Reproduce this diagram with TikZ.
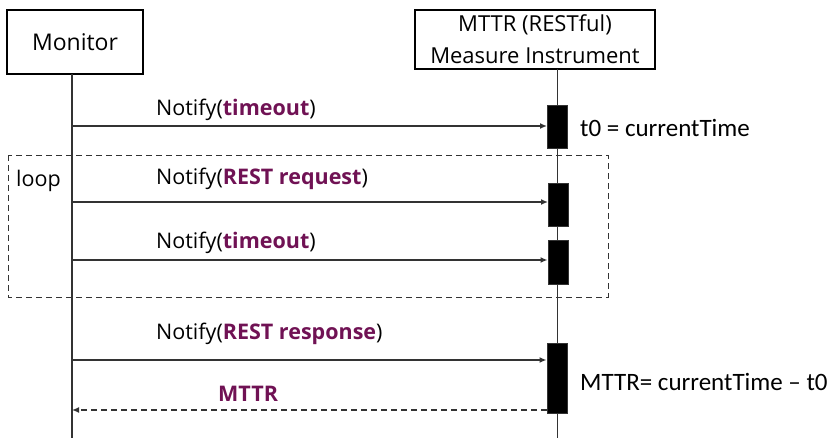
\documentclass[tikz,border=0pt]{standalone}
\usepackage{fontspec}
\setmainfont{Open Sans}
\newfontfamily\calfont[Ligatures=TeX]{Carlito}
\usetikzlibrary{positioning,arrows.meta}
\definecolor{msgpurple}{RGB}{112,18,84}
\newcommand{\hl}[1]{\textcolor{msgpurple}{\textbf{#1}}}

\begin{document}
\begin{tikzpicture}[x=1pt, y=-1pt,
	actor/.style={draw, line width=1.2pt, align=center, font=\fontsize{22}{32}\selectfont, inner sep=0pt},
	lifeline/.style={line width=1.3pt, black!80},
	actbar/.style={draw=black!80, fill=black, line width=1pt, minimum width=20pt, inner sep=0pt},
	msg/.style={line width=1.6pt, black!80, -{Latex[length=7pt,width=6pt]}},
	reply/.style={msg, dashed, dash pattern=on 6pt off 4pt},
	msglabel/.style={font=\fontsize{21.5}{24}\selectfont, anchor=west, inner sep=0pt},
	note/.style={font=\calfont\fontsize{25}{28}\selectfont, anchor=west, inner sep=0pt}]
\useasboundingbox (0,0) rectangle (836,440);

% actors
\node[actor, minimum width=136pt, minimum height=64pt, font=\fontsize{23}{28}\selectfont] (monitor) at (75,42) {Monitor};
\node[actor, minimum width=240pt, minimum height=59pt] (mttr) at (535,39.5) {MTTR (RESTful)\\Measure Instrument};

% lifelines
\coordinate (montop) at (72,74);
\coordinate (monbot) at (72,438);
\coordinate (insttop) at (557.5,69);
\coordinate (instbot) at (557.5,438);
\draw[lifeline] (montop) -- (monbot);
\draw[lifeline] (insttop) -- (instbot);

% loop frame
\draw[line width=1pt, black!80, dash pattern=on 6pt off 4pt] (8,155) rectangle (608,297);
\node[msglabel] (looplabel) at (16,181) {loop};

% activation bars
\node[actbar, minimum height=43pt] (bar1) at (557.5,126.5) {};
\node[actbar, minimum height=43pt] (bar2) at (558.5,204.5) {};
\node[actbar, minimum height=44pt] (bar3) at (558,262) {};
\node[actbar, minimum height=70pt] (bar4) at (557,378) {};

% messages
\coordinate (m1) at (72,126);
\coordinate (m2) at (72,202);
\coordinate (m3) at (72,260);
\coordinate (m4) at (72,360);
\coordinate (r1) at (72,410);
\draw[msg] (m1) -- (m1 -| bar1.west);
\draw[msg] (m2) -- (m2 -| bar2.west);
\draw[msg] (m3) -- (m3 -| bar3.west);
\draw[msg] (m4) -- (m4 -| bar4.west);
\draw[reply] (r1 -| bar4.west) -- (r1);

\node[msglabel] (lab1) at (156,110) {Notify(\hl{timeout})};
\node[msglabel] (lab2) at (156,179) {Notify(\hl{REST request})};
\node[msglabel] (lab3) at (156,243) {Notify(\hl{timeout})};
\node[msglabel] (lab4) at (156,334) {Notify(\hl{REST response})};
\node[msglabel] (lab5) at (218,394) {\hl{MTTR}};

% notes
\node[note] (t0note) at (580,128) {t0 = currentTime};
\node[note] (mttrnote) at (580,382) {MTTR= currentTime – t0};
\end{tikzpicture}
\end{document}
